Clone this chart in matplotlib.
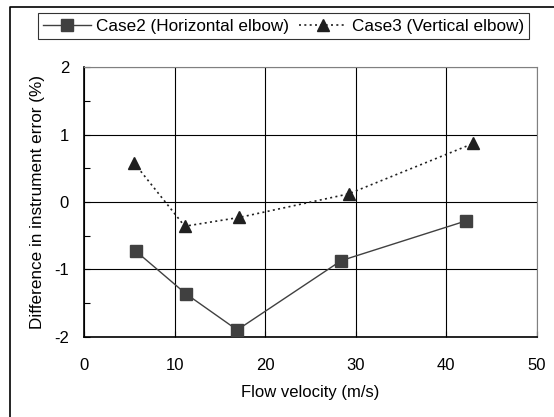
import matplotlib
matplotlib.use("Agg")
import matplotlib.pyplot as plt
from matplotlib.lines import Line2D

plt.rcParams['font.family'] = ['Liberation Sans', 'DejaVu Sans']
plt.rcParams['axes.unicode_minus'] = False

case2_x = [5.7, 11.2, 16.9, 28.4, 42.2]
case2_y = [-0.73, -1.36, -1.90, -0.87, -0.28]
case3_x = [5.5, 11.1, 17.1, 29.2, 43.0]
case3_y = [0.58, -0.36, -0.23, 0.12, 0.87]

xticks = [0, 10, 20, 30, 40, 50]
yticks = [-2, -1, 0, 1, 2]

W, H = 554, 417
fig = plt.figure(figsize=(W/100, H/100), dpi=100)
ax = fig.add_axes([84.3/W, 1 - 336.7/H, (536.7-84.3)/W, (336.7-67.3)/H])

ax.plot(case2_x, case2_y, color='#404040', lw=1.0, marker='s', ms=8,
        mfc='#404040', mec='#404040', label='Case2 (Horizontal elbow)', zorder=3)
ax.plot(case3_x, case3_y, color='#202020', lw=1.2, ls=(0, (1.2, 2.0)), marker='^', ms=9,
        mfc='#202020', mec='#202020', label='Case3 (Vertical elbow)', zorder=3)

ax.set_xlim(0, 50)
ax.set_ylim(-2, 2)
ax.set_xticks(xticks)
ax.set_yticks(yticks)
ax.set_yticks([-1.5, -0.5, 0.5, 1.5], minor=True)
ax.grid(True, which='major', color='black', lw=0.8)
ax.tick_params(which='both', direction='in', labelsize=12, length=4, width=0.8, pad=11)
ax.tick_params(axis='x', pad=15)
for s in ['left', 'bottom']:
    ax.spines[s].set_color('black')
    ax.spines[s].set_linewidth(1.2)
for s in ['top', 'right']:
    ax.spines[s].set_color('#808080')
    ax.spines[s].set_linewidth(0.8)

ax.set_xlabel('Flow velocity (m/s)', fontsize=12, labelpad=9)
ax.set_ylabel('Difference in instrument error (%)', fontsize=12.3, labelpad=6.5)

leg = fig.legend(loc='center', bbox_to_anchor=((36.7+530)/2/W, 1 - 26/H), ncol=2,
                 frameon=True, fancybox=False, edgecolor='black', fontsize=12.3,
                 handlelength=2.8, columnspacing=0.6, handletextpad=0.3,
                 borderpad=0.3)
leg.get_frame().set_linewidth(0.8)

fig.add_artist(Line2D([10/W, 10/W, 1], [0, 1 - 7/H, 1 - 7/H], color='black', lw=1.2,
                      transform=fig.transFigure))

fig.savefig('out.png', dpi=100)
